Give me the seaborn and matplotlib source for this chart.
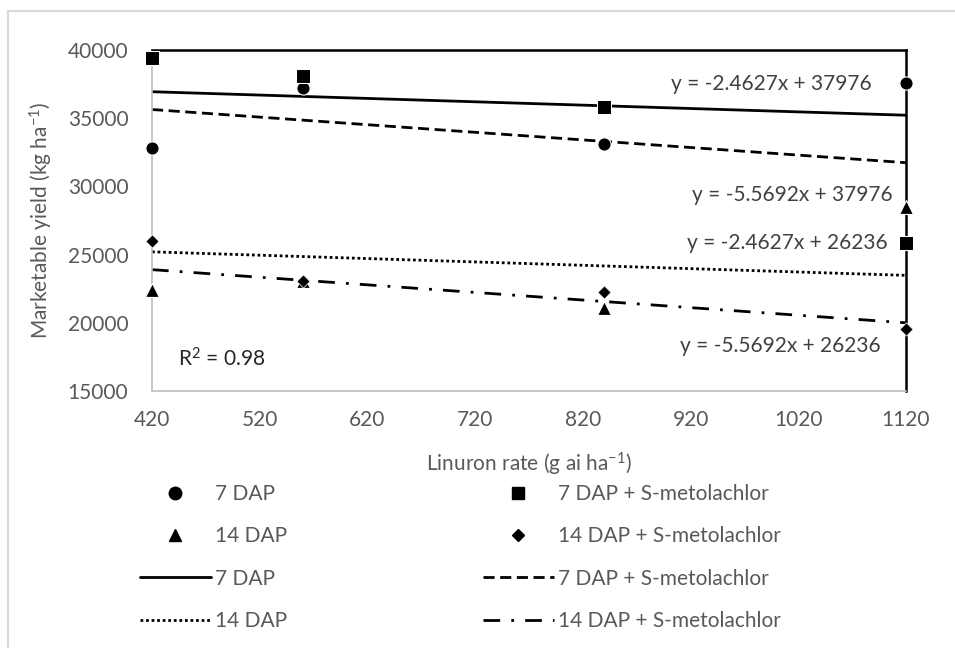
import numpy as np
import pandas as pd
import matplotlib
matplotlib.use('Agg')
import matplotlib.pyplot as plt
import seaborn as sns
from matplotlib.lines import Line2D

sns.set_style('white')
plt.rcParams['font.family'] = ['Lato', 'DejaVu Sans']
plt.rcParams['mathtext.fontset'] = 'custom'
plt.rcParams['mathtext.rm'] = 'Lato'
plt.rcParams['mathtext.default'] = 'regular'

# 데이터
rates = [420, 560, 840, 1120]
dap7 = [32800, 37200, 33100, 37600]
dap7_smet = [39400, 38100, 35850, 25850]
dap14 = [22400, 23100, 21050, 28500]
dap14_smet = [26000, 23100, 22250, 19550]

# 추세선 양 끝 값
fit_x = [420, 1120]
fit_7 = [36942, 35218]
fit_7_smet = [35637, 31738]
fit_14 = [25202, 23478]
fit_14_smet = [23897, 19998]

eq_labels = ['y = -2.4627x + 37976', 'y = -5.5692x + 37976',
             'y = -2.4627x + 26236', 'y = -5.5692x + 26236']
r2_label = 'R$^{2}$ = 0.98'
x_ticks = [420, 520, 620, 720, 820, 920, 1020, 1120]
y_ticks = [15000, 20000, 25000, 30000, 35000, 40000]

df = pd.DataFrame({'rate': rates, '7 DAP': dap7, '7 DAP + S-metolachlor': dap7_smet,
                   '14 DAP': dap14, '14 DAP + S-metolachlor': dap14_smet})

fig = plt.figure(figsize=(9.55, 6.48), dpi=100)
ax = fig.add_axes([152 / 955, 1 - 391 / 648, 754 / 955, 341 / 648])

gray_txt = '#595959'
fs = 15

# 추세선
sns.lineplot(x=fit_x, y=fit_7, color='black', lw=2, ax=ax, linestyle='-')
sns.lineplot(x=fit_x, y=fit_7_smet, color='black', lw=2, ax=ax, linestyle=(0, (4, 2)))
sns.lineplot(x=fit_x, y=fit_14, color='black', lw=2, ax=ax, linestyle=(0, (1, 1)))
sns.lineplot(x=fit_x, y=fit_14_smet, color='black', lw=2, ax=ax, linestyle=(0, (6, 4, 1, 4)))

# 산점도
sns.scatterplot(data=df, x='rate', y='7 DAP', marker='o', color='black', s=90, ax=ax, clip_on=False, zorder=5)
sns.scatterplot(data=df, x='rate', y='7 DAP + S-metolachlor', marker='s', color='black', s=90, ax=ax, clip_on=False, zorder=5)
sns.scatterplot(data=df, x='rate', y='14 DAP', marker='^', color='black', s=100, ax=ax, clip_on=False, zorder=5)
sns.scatterplot(data=df, x='rate', y='14 DAP + S-metolachlor', marker='D', color='black', s=45, ax=ax, clip_on=False, zorder=5)

ax.set_xlim(420, 1120)
ax.set_ylim(15000, 40000)
ax.set_xticks(x_ticks)
ax.set_yticks(y_ticks)
ax.tick_params(length=0, labelsize=fs, labelcolor=gray_txt)
ax.tick_params(axis='x', pad=14)
ax.tick_params(axis='y', pad=17)
ax.set_xlabel('Linuron rate (g ai ha$^{-1}$)', fontsize=fs, color=gray_txt, labelpad=15)
ax.set_ylabel('Marketable yield (kg ha$^{-1}$)', fontsize=fs, color=gray_txt, labelpad=9)

for side in ['left', 'bottom']:
    ax.spines[side].set_color('#BFBFBF')
    ax.spines[side].set_linewidth(1.2)
for side in ['top', 'right']:
    ax.spines[side].set_color('black')
    ax.spines[side].set_linewidth(1.8)

eq_color = '#404040'
ax.text(1088, 37500, eq_labels[0], ha='right', va='center', fontsize=fs, color=eq_color)
ax.text(1108, 29370, eq_labels[1], ha='right', va='center', fontsize=fs, color=eq_color)
ax.text(1103, 25850, eq_labels[2], ha='right', va='center', fontsize=fs, color=eq_color)
ax.text(1096, 18300, eq_labels[3], ha='right', va='center', fontsize=fs, color=eq_color)
ax.text(444, 17350, r2_label, ha='left', va='center', fontsize=fs, color='#262626')

# 범례
col1 = [Line2D([], [], ls='none', marker='o', color='black', ms=9),
        Line2D([], [], ls='none', marker='^', color='black', ms=9),
        Line2D([], [], ls='-', color='black', lw=2),
        Line2D([], [], ls=(0, (1, 1)), color='black', lw=2)]
col2 = [Line2D([], [], ls='none', marker='s', color='black', ms=9),
        Line2D([], [], ls='none', marker='D', color='black', ms=6),
        Line2D([], [], ls=(0, (4, 2)), color='black', lw=2),
        Line2D([], [], ls=(0, (6, 4, 1, 4)), color='black', lw=2)]
lab1 = ['7 DAP', '14 DAP', '7 DAP', '14 DAP']
lab2 = ['7 DAP + S-metolachlor', '14 DAP + S-metolachlor', '7 DAP + S-metolachlor', '14 DAP + S-metolachlor']
for handles, labels, x0 in [(col1, lab1, 140 / 955), (col2, lab2, 483 / 955)]:
    leg = fig.legend(handles, labels, loc='upper left', bbox_to_anchor=(x0, 1 - 484 / 648),
                     frameon=False, fontsize=fs, handlelength=3.4, handletextpad=0.2,
                     labelspacing=1.07, borderpad=0, borderaxespad=0)
    for t in leg.get_texts():
        t.set_color(gray_txt)

# 바깥 테두리
fig.add_artist(Line2D([8 / 955, 8 / 955], [0, 1 - 11 / 648], color='#D9D9D9', lw=1.5))
fig.add_artist(Line2D([8 / 955, 1], [1 - 11 / 648, 1 - 11 / 648], color='#D9D9D9', lw=1.5))

fig.savefig('out.png', dpi=100)
